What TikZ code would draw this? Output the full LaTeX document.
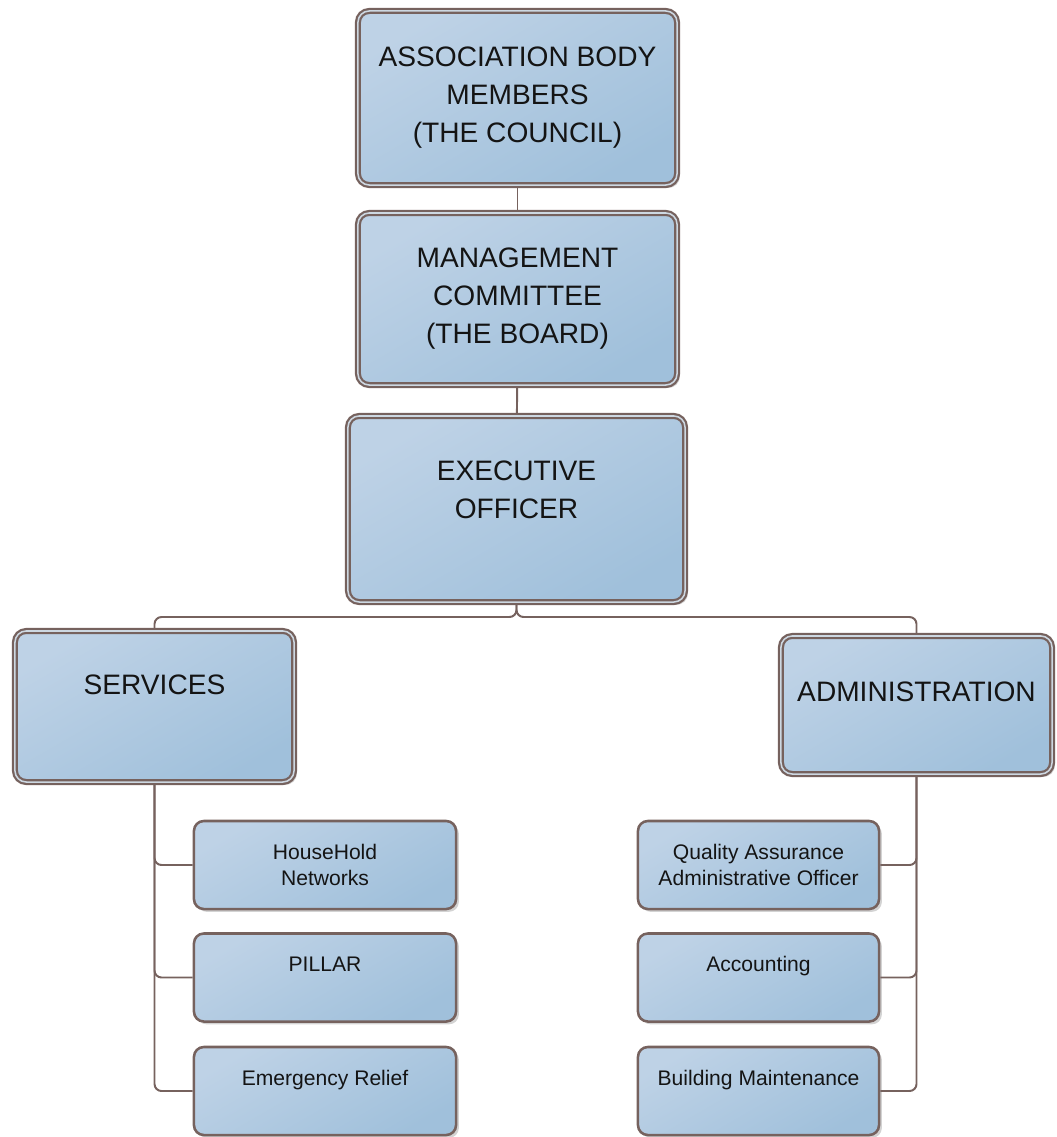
\documentclass[tikz,border=0pt]{standalone}
\usepackage{fontspec}
\setmainfont{Liberation Sans}
\usetikzlibrary{shadows}
\definecolor{boxedge}{RGB}{118,98,94}
\definecolor{boxtop}{RGB}{190,210,230}
\definecolor{boxbottom}{RGB}{160,192,219}
\definecolor{boxgap}{RGB}{205,216,226}
\definecolor{boxtext}{RGB}{20,20,20}
\begin{document}
\begin{tikzpicture}[x=0.025cm, y=-0.025cm,
    box/.style={rectangle, draw=boxedge, top color=boxtop, bottom color=boxbottom, shading angle=30, text=boxtext, align=center, drop shadow={shadow xshift=2pt, shadow yshift=-2pt, opacity=0.35}},
    bigbox/.style={box, rounded corners=8pt, line width=1.6pt, double=boxgap, double distance=1.1pt, font=\fontsize{20}{27}\selectfont},
    smallbox/.style={box, rounded corners=7pt, line width=1.8pt, font=\fontsize{15}{19}\selectfont, minimum height=2.2cm},
    link/.style={draw=boxedge, line width=1.4pt, rounded corners=5pt}]
    \useasboundingbox (0,0) rectangle (1057,1137);
    \node[bigbox, minimum width=7.975cm, minimum height=4.35cm] (council) at (517.5,98) {ASSOCIATION BODY\\MEMBERS\\(THE COUNCIL)};
    \node[bigbox, minimum width=7.975cm, minimum height=4.3cm] (board) at (517.5,299) {MANAGEMENT\\COMMITTEE\\(THE BOARD)};
    \node[bigbox, minimum width=8.425cm, minimum height=4.65cm] (exec) at (516.5,509) {EXECUTIVE\\OFFICER\\~};
    \node[bigbox, minimum width=6.975cm, minimum height=3.775cm] (services) at (154.5,706.5) {SERVICES\\[4pt]~};
    \node[bigbox, minimum width=6.775cm, minimum height=3.45cm] (admin) at (916.5,705) {ADMINISTRATION\\[-8pt]~};
    \node[smallbox, minimum width=6.55cm] (household) at (325,865) {HouseHold\\Networks};
    \node[smallbox, minimum width=6.55cm] (pillar) at (325,977.5) {PILLAR\\~};
    \node[smallbox, minimum width=6.55cm] (relief) at (325,1091) {Emergency Relief\\~};
    \node[smallbox, minimum width=6.025cm] (quality) at (758.5,865) {Quality Assurance\\Administrative Officer};
    \node[smallbox, minimum width=6.025cm] (accounting) at (758.5,977.5) {Accounting\\~};
    \node[smallbox, minimum width=6.025cm] (maintenance) at (758.5,1091) {Building Maintenance\\~};
    \coordinate (bus) at (516.5,617);
    \draw[link] (council) -- (board);
    \draw[link] (board) -- (exec);
    \draw[link] (exec) -- (bus) -| (services);
    \draw[link] (exec) -- (bus) -| (admin);
    \draw[link] (services) |- (household);
    \draw[link] (services) |- (pillar);
    \draw[link] (services) |- (relief);
    \draw[link] (admin) |- (quality);
    \draw[link] (admin) |- (accounting);
    \draw[link] (admin) |- (maintenance);
\end{tikzpicture}
\end{document}
